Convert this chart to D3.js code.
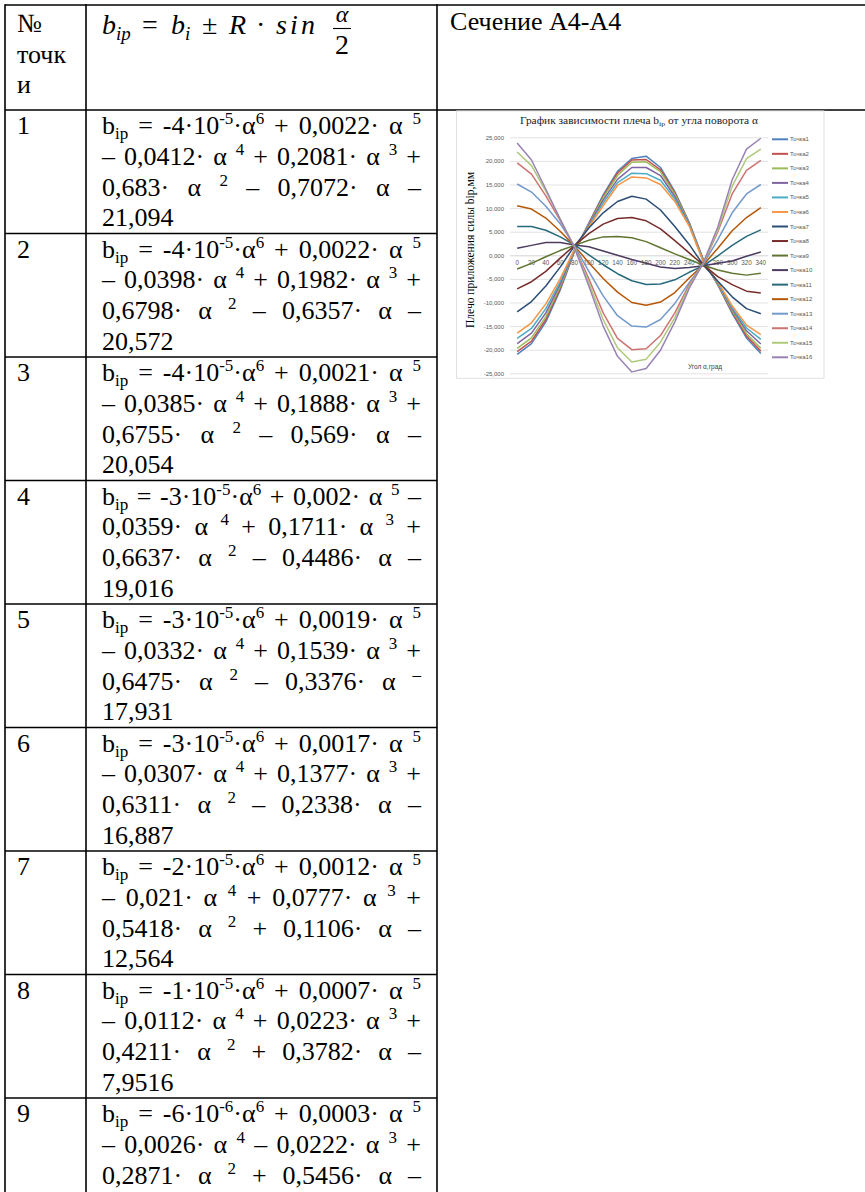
<!DOCTYPE html>
<html><head><meta charset="utf-8">
<script src="https://cdn.jsdelivr.net/npm/d3@7"></script>
<style>body{margin:0;background:#fff} svg{display:block}</style>
</head><body>
<script>
// ---------- chart data ----------
const angles = [0,20,40,60,80,100,120,140,160,180,200,220,240,260,280,300,320,340];
const yTicks = [-25,-20,-15,-10,-5,0,5,10,15,20,25];
const seriesNames = ["Точка1","Точка2","Точка3","Точка4","Точка5","Точка6","Точка7","Точка8",
                     "Точка9","Точка10","Точка11","Точка12","Точка13","Точка14","Точка15","Точка16"];
const p1  = [-21.0,-18.7,-14.1,-7.4,0.8,6.8,12.8,17.8,20.5,21.0,18.6,13.5,7.0,-1.0,-6.3,-12.3,-17.5,-20.8];
const p2  = [-20.4,-18.2,-13.6,-7.0,0.9,6.7,12.5,17.4,20.2,20.3,18.1,13.2,6.9,-1.1,-6.2,-12.0,-17.1,-20.3];
const p3  = [-19.7,-17.5,-13.0,-6.6,1.0,6.5,12.2,16.9,19.7,19.8,17.7,12.9,6.8,-1.2,-6.1,-11.7,-16.6,-19.7];
const p4  = [-18.7,-16.5,-12.2,-6.1,1.1,6.4,11.7,16.1,18.6,18.6,16.9,12.4,6.6,-1.3,-5.9,-11.4,-16.0,-18.8];
const p5  = [-17.6,-15.5,-11.3,-5.6,1.2,6.2,11.1,15.4,17.4,17.3,15.9,11.9,6.4,-1.4,-5.8,-11.1,-15.4,-17.8];
const p6  = [-16.5,-14.3,-10.3,-5.0,1.3,6.0,10.5,14.8,16.6,16.4,15.0,11.4,6.2,-1.5,-5.6,-10.7,-14.8,-16.8];
const p7  = [-12.0,-9.8,-6.5,-2.5,2.0,5.8,9.0,11.4,12.5,11.9,9.6,6.1,2.3,-2.1,-5.5,-8.8,-11.3,-12.4];
const p8  = [-7.1,-5.6,-3.4,-0.6,2.1,4.6,6.6,7.8,8.0,7.3,5.6,3.1,0.5,-2.1,-4.5,-6.2,-7.6,-8.0];
const p9  = [-2.9,-1.7,-0.3,1.0,2.1,3.2,3.9,4.0,3.7,2.9,1.6,0.3,-0.9,-2.1,-3.1,-3.8,-4.2,-3.8];
const p10 = [1.5,2.1,2.7,2.7,2.2,1.8,0.9,0.0,-0.9,-1.7,-2.5,-2.8,-2.6,-2.2,-1.7,-1.2,-0.2,0.7];
const p11 = [6.1,6.1,5.3,3.9,2.2,0.1,-2.0,-3.9,-5.4,-6.2,-6.1,-5.2,-3.6,-2.2,-0.1,2.1,4.0,5.4];
const p12 = [10.5,9.8,7.9,5.1,2.0,-1.6,-4.9,-7.8,-10.0,-10.6,-9.9,-7.9,-4.8,-2.0,1.5,5.2,8.0,10.1];
const p13 = [15.1,13.4,10.4,6.7,2.0,-3.4,-8.6,-12.8,-15.0,-15.2,-13.6,-10.2,-5.8,-1.8,3.3,9.0,13.0,15.0];
const p14 = [19.6,17.2,12.6,7.4,1.8,-5.0,-12.2,-17.6,-20.0,-19.8,-17.0,-12.2,-6.2,-1.7,5.0,13.0,18.0,20.1];
const p15 = [21.9,19.0,13.6,7.7,1.7,-5.8,-13.6,-19.6,-22.6,-22.0,-18.4,-13.2,-6.6,-1.6,5.4,14.6,20.5,22.5];
const p16 = [23.8,20.2,14.0,7.6,1.6,-6.5,-15.0,-21.4,-24.7,-24.0,-20.1,-14.1,-7.0,-1.5,6.0,16.0,22.5,24.8];
const seriesValues = [p1,p2,p3,p4,p5,p6,p7,p8,p9,p10,p11,p12,p13,p14,p15,p16];
const seriesColors = ["#4F81BD","#C0504D","#9BBB59","#8064A2","#4BACC6","#F79646","#2C4D75","#772C2A",
                      "#5F7530","#4D3B62","#276A7C","#B65708","#729ACA","#CD7371","#AFC97A","#9983B5"];
const chartTitleParts = ["График зависимости плеча b","ip"," от угла поворота α"];
const yTitle = "Плечо приложения силы bip,мм";
const xTitle = "Угол α,град";

// ---------- table text ----------
const headerNo = ["№","точк","и"];
const sectionTitle = "Сечение А4-А4";
const rowNumbers = ["1","2","3","4","5","6","7","8","9"];
const row1 = ["b_{ip} = -4·10^{-5}·α^{6} + 0,0022· α ^{5}","– 0,0412· α ^{4} + 0,2081· α ^{3} +","0,683· α ^{2} – 0,7072· α –","21,094"];
const row2 = ["b_{ip} = -4·10^{-5}·α^{6} + 0,0022· α ^{5}","– 0,0398· α ^{4} + 0,1982· α ^{3} +","0,6798· α ^{2} – 0,6357· α –","20,572"];
const row3 = ["b_{ip} = -4·10^{-5}·α^{6} + 0,0021· α ^{5}","– 0,0385· α ^{4} + 0,1888· α ^{3} +","0,6755· α ^{2} – 0,569· α –","20,054"];
const row4 = ["b_{ip} = -3·10^{-5}·α^{6} + 0,002· α ^{5} –","0,0359· α ^{4} + 0,1711· α ^{3} +","0,6637· α ^{2} – 0,4486· α –","19,016"];
const row5 = ["b_{ip} = -3·10^{-5}·α^{6} + 0,0019· α ^{5}","– 0,0332· α ^{4} + 0,1539· α ^{3} +","0,6475· α ^{2} – 0,3376· α ^{–}","17,931"];
const row6 = ["b_{ip} = -3·10^{-5}·α^{6} + 0,0017· α ^{5}","– 0,0307· α ^{4} + 0,1377· α ^{3} +","0,6311· α ^{2} – 0,2338· α –","16,887"];
const row7 = ["b_{ip} = -2·10^{-5}·α^{6} + 0,0012· α ^{5}","– 0,021· α ^{4} + 0,0777· α ^{3} +","0,5418· α ^{2} + 0,1106· α –","12,564"];
const row8 = ["b_{ip} = -1·10^{-5}·α^{6} + 0,0007· α ^{5}","– 0,0112· α ^{4} + 0,0223· α ^{3} +","0,4211· α ^{2} + 0,3782· α –","7,9516"];
const row9 = ["b_{ip} = -6·10^{-6}·α^{6} + 0,0003· α ^{5}","– 0,0026· α ^{4} – 0,0222· α ^{3} +","0,2871· α ^{2} + 0,5456· α –"];
const rows = [row1,row2,row3,row4,row5,row6,row7,row8,row9];

// ---------- drawing ----------
const W = 865, H = 1192;
const svg = d3.select("body").append("svg").attr("width", W).attr("height", H);
const SERIF = "Liberation Serif, Times New Roman, DejaVu Serif, serif";
const SANS = "Liberation Sans, Arial, sans-serif";
const FS = 26, SFS = 17;

const tbl = svg.append("g");
function stxt(g) { return g.append("text").style("font-family", SERIF).attr("fill", "#000"); }

function addToken(g, str, yb) {
  const t = stxt(g).attr("y", yb).attr("font-size", FS);
  str.split(/(\^\{[^}]*\}|_\{[^}]*\})/).filter(s => s.length).forEach(p => {
    if (p.startsWith("^{")) t.append("tspan").attr("y", yb - 10).attr("font-size", SFS).text(p.slice(2, -1));
    else if (p.startsWith("_{")) t.append("tspan").attr("y", yb + 5).attr("font-size", SFS).text(p.slice(2, -1));
    else t.append("tspan").attr("y", yb).text(p);
  });
  return t;
}
function drawLine(g, line, x0, x1, yb, justify) {
  const toks = line.split(" ").filter(s => s.length);
  const nodes = toks.map(s => addToken(g, s, yb));
  const widths = nodes.map(n => n.node().getComputedTextLength());
  const total = d3.sum(widths);
  const gap = (justify && toks.length > 1) ? (x1 - x0 - total) / (toks.length - 1) : FS * 0.25;
  let x = x0;
  nodes.forEach((n, i) => { n.attr("x", x); x += widths[i] + gap; });
}

// table geometry
const colX = [5, 86, 437];
const headerTop = 5, headerBottom = 110, rowH = 123.5, lineH = 30.8, firstBase = 24;
const rowTop = i => headerBottom + i * rowH;

// header texts
headerNo.forEach((s, i) => stxt(tbl).attr("x", 17).attr("y", 32 + i * 30.5).attr("font-size", FS).text(s));
stxt(tbl).attr("x", 450).attr("y", 30).attr("font-size", FS).text(sectionTitle);

// header formula  b_ip = b_i ± R · sin α/2
(function () {
  const g = tbl.append("g");
  const base = 34, MF = 28;
  const pieces = [
    {t: "b", x: 102}, {t: "ip", sub: true, x: 116}, {t: "=", up: true, x: 142},
    {t: "b", x: 171}, {t: "i", sub: true, x: 185}, {t: "±", up: true, x: 202},
    {t: "R", x: 229}, {t: "·", up: true, x: 256}, {t: "sin", x: 276, len: 39}
  ];
  pieces.forEach(p => {
    const e = stxt(g).attr("x", p.x).attr("y", p.sub ? base + 6 : base)
      .attr("font-size", p.sub ? 19 : MF).style("font-style", p.up ? "normal" : "italic").text(p.t);
    if (p.len) e.attr("textLength", p.len).attr("lengthAdjust", "spacing");
  });
  const fc = 342;
  stxt(g).attr("x", fc).attr("y", 22).attr("font-size", 24).attr("text-anchor", "middle").style("font-style", "italic").text("α");
  g.append("line").attr("x1", fc - 9).attr("x2", fc + 9).attr("y1", 28.5).attr("y2", 28.5).attr("stroke", "#000").attr("stroke-width", 1.1);
  stxt(g).attr("x", fc).attr("y", 54).attr("font-size", MF).attr("text-anchor", "middle").text("2");
})();

// rows
rows.forEach((lines, r) => {
  const top = rowTop(r);
  stxt(tbl).attr("x", 17).attr("y", top + firstBase).attr("font-size", FS).text(rowNumbers[r]);
  lines.forEach((ln, k) => {
    const isLast = (r < 8) && (k === lines.length - 1);
    drawLine(tbl, ln, 102, 421, top + firstBase + k * lineH, !isLast);
  });
});

// table borders
const bord = svg.append("g").attr("stroke", "#000").attr("stroke-width", 1.6);
bord.append("line").attr("x1", 5).attr("x2", W).attr("y1", headerTop).attr("y2", headerTop);
bord.append("line").attr("x1", 5).attr("x2", W).attr("y1", headerBottom).attr("y2", headerBottom);
colX.forEach(cx => bord.append("line").attr("x1", cx).attr("x2", cx).attr("y1", headerTop - 0.8).attr("y2", H));
d3.range(1, 9).forEach(i => bord.append("line").attr("x1", 5).attr("x2", colX[2]).attr("y1", rowTop(i)).attr("y2", rowTop(i)));

// ---------- chart ----------
const cg = svg.append("g");
cg.append("rect").attr("x", 456.5).attr("y", 110.9).attr("width", 367.5).attr("height", 267.3)
  .attr("fill", "#fff").attr("stroke", "#d9d9d9").attr("stroke-width", 0.8);

const x = d3.scaleBand().domain(angles).range([510, 768]);
const y = d3.scaleLinear().domain([-25, 25]).range([373.3, 137.3]);
const fmt = d3.formatLocale({decimal: ",", thousands: " ", grouping: [3], currency: ["", ""], minus: "-"}).format(".3f");

const gy = cg.append("g").attr("transform", "translate(510,0)")
  .call(d3.axisLeft(y).tickValues(yTicks).tickSize(-258).tickPadding(6).tickFormat(fmt));
gy.select(".domain").remove();
gy.selectAll("line").attr("stroke", "#d9d9d9").attr("stroke-width", 0.75);
gy.selectAll("text").attr("fill", "#595959").attr("font-size", 6).style("font-family", SANS);

const gx = cg.append("g").attr("transform", `translate(0,${y(0)})`)
  .call(d3.axisBottom(x).tickSize(0).tickSizeOuter(0).tickPadding(5));
gx.select(".domain").attr("stroke", "#d9d9d9").attr("stroke-width", 0.75);
gx.selectAll("text").attr("fill", "#595959").attr("font-size", 6.3).style("font-family", SANS);

const lineGen = d3.line().x((d, i) => x(angles[i]) + x.bandwidth() / 2).y(d => y(d));
seriesValues.forEach((vals, i) => {
  cg.append("path").datum(vals).attr("d", lineGen).attr("fill", "none")
    .attr("stroke", seriesColors[i]).attr("stroke-width", 1.5).attr("stroke-linejoin", "round");
});

// chart title
const ct = cg.append("text").attr("x", 639).attr("y", 123.5).attr("text-anchor", "middle")
  .style("font-family", SERIF).attr("font-size", 9.5).attr("fill", "#1a1a1a")
  .attr("textLength", 238).attr("lengthAdjust", "spacingAndGlyphs");
ct.append("tspan").text(chartTitleParts[0]);
ct.append("tspan").attr("font-size", 6.5).attr("dy", 2).text(chartTitleParts[1]);
ct.append("tspan").attr("dy", -2).text(chartTitleParts[2]);

// axis titles
cg.append("text").attr("transform", "translate(474,250) rotate(-90)").attr("text-anchor", "middle")
  .style("font-family", SERIF).attr("font-size", 12.5).attr("fill", "#000")
  .attr("textLength", 156).attr("lengthAdjust", "spacingAndGlyphs").text(yTitle);
cg.append("text").attr("x", 705).attr("y", 369).attr("text-anchor", "middle")
  .style("font-family", SANS).attr("font-size", 6.5).attr("fill", "#404040").text(xTitle);

// legend
const ly = d3.scaleLinear().domain([0, 15]).range([139.3, 357.3]);
const lg = cg.append("g");
seriesNames.forEach((nm, i) => {
  lg.append("line").attr("x1", 772).attr("x2", 788).attr("y1", ly(i)).attr("y2", ly(i))
    .attr("stroke", seriesColors[i]).attr("stroke-width", 2);
  lg.append("text").attr("x", 790).attr("y", ly(i) + 2).style("font-family", SANS)
    .attr("font-size", 6).attr("fill", "#595959").text(nm);
});
</script>
</body></html>
